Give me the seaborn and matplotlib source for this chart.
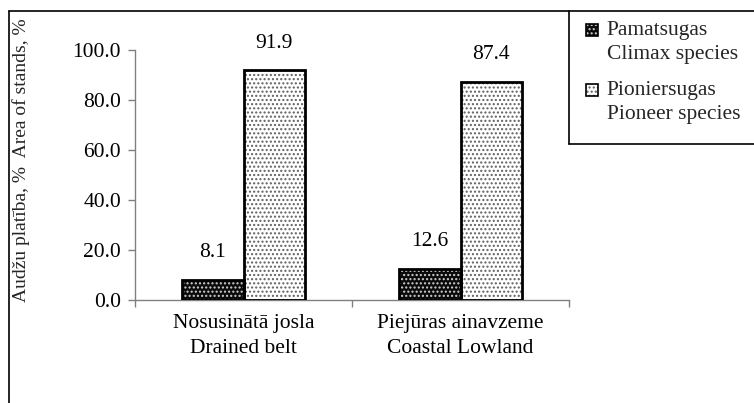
import matplotlib
matplotlib.use("Agg")
import matplotlib.pyplot as plt
import seaborn as sns
import pandas as pd
from matplotlib.patches import Rectangle
from matplotlib.lines import Line2D
from matplotlib.ticker import FormatStrFormatter, FixedLocator

categories = ["Nosusinātā josla\nDrained belt", "Piejūras ainavzeme\nCoastal Lowland"]
series_names = ["Pamatsugas\nClimax species", "Pioniersugas\nPioneer species"]
climax = [8.1, 12.6]
pioneer = [91.9, 87.4]
yticks = [0, 20, 40, 60, 80, 100]

df = pd.DataFrame({
    "cat": categories * 2,
    "series": [series_names[0]] * 2 + [series_names[1]] * 2,
    "value": climax + pioneer,
})

sns.set_theme(style="white")
plt.rcParams["font.family"] = ["Liberation Serif", "DejaVu Serif"]
plt.rcParams["hatch.linewidth"] = 1.0
FS = 15.5

W, H = 754, 403
fig = plt.figure(figsize=(W / 100, H / 100), dpi=100)
ax = fig.add_axes([135 / W, 1 - 300 / H, (569 - 135) / W, 250 / H])

sns.barplot(data=df, x="cat", y="value", hue="series", hue_order=series_names,
            order=categories, palette=["#000000", "#ffffff"], width=0.57,
            dodge=True, legend=False, ax=ax, saturation=1)

styles = [dict(face="#0a0a0a", hatch="....", hcol="#d0d0d0"),
          dict(face="#ffffff", hatch="....", hcol="#606060")]
for cont, st in zip(ax.containers, styles):
    for bar in cont:
        x, y = bar.get_x(), bar.get_y()
        w, h = bar.get_width(), bar.get_height()
        bar.set_facecolor("none")
        bar.set_edgecolor("black")
        bar.set_linewidth(2.0)
        bar.set_zorder(3)
        r = Rectangle((x, y), w, h, facecolor=st["face"], edgecolor=st["hcol"],
                      hatch=st["hatch"], linewidth=0, zorder=2)
        ax.add_patch(r)
        ax.annotate(f"{h:.1f}", (x + w / 2, y + h), xytext=(0, 19.5),
                    textcoords="offset points", ha="center", va="center",
                    fontsize=FS, color="black")

ax.set_ylim(0, 100)
ax.set_xlim(-0.5, 1.5)
ax.yaxis.set_major_locator(FixedLocator(yticks))
ax.yaxis.set_major_formatter(FormatStrFormatter("%.1f"))
ax.tick_params(axis="y", which="major", left=True, length=5, width=1,
               color="#808080", labelsize=FS, pad=5, labelcolor="black")
ax.set_xticks([0, 1])
ax.set_xticklabels(categories, fontsize=FS, linespacing=1.45)
ax.tick_params(axis="x", which="major", length=0, pad=10, labelcolor="black")
ax.xaxis.set_minor_locator(FixedLocator([-0.5, 0.5, 1.5]))
ax.tick_params(axis="x", which="minor", bottom=True, length=5, width=1, color="#808080")
ax.set_xlabel("")
ax.set_ylabel("")
for s in ["top", "right"]:
    ax.spines[s].set_visible(False)
for s in ["left", "bottom"]:
    ax.spines[s].set_color("#808080")
    ax.spines[s].set_linewidth(1)
ax.grid(False)

fig.text(21 / W, 1 - 160 / H, "Audžu platība, %  Area of stands, %", rotation=90,
         ha="center", va="center", fontsize=14)

def fx(px):
    return px / W

def fy(py):
    return 1 - py / H

# figure border (left and top)
fig.add_artist(Line2D([fx(8.5), fx(8.5)], [0, fy(10.5)], color="black", lw=1.2))
fig.add_artist(Line2D([fx(8.5), 1], [fy(10.5), fy(10.5)], color="black", lw=1.2))
# legend box
fig.add_artist(Line2D([fx(568.5), fx(568.5)], [fy(10.5), fy(143.5)], color="black", lw=1.2))
fig.add_artist(Line2D([fx(568.5), 1], [fy(143.5), fy(143.5)], color="black", lw=1.2))

leg_y = [30, 90]
for st, name, yc in zip(styles, series_names, leg_y):
    sq = 12
    fig.add_artist(Rectangle((fx(586), fy(yc + sq / 2)), sq / W, sq / H,
                             facecolor=st["face"], edgecolor=st["hcol"], hatch=st["hatch"],
                             linewidth=0, transform=fig.transFigure))
    fig.add_artist(Rectangle((fx(586), fy(yc + sq / 2)), sq / W, sq / H,
                             facecolor="none", edgecolor="black", linewidth=1.2,
                             transform=fig.transFigure))
    l1, l2 = name.split("\n")
    fig.text(fx(606), fy(yc), l1, ha="left", va="center", fontsize=FS)
    fig.text(fx(607), fy(yc + 25), l2, ha="left", va="center", fontsize=FS)

fig.savefig("out.png", dpi=100)
